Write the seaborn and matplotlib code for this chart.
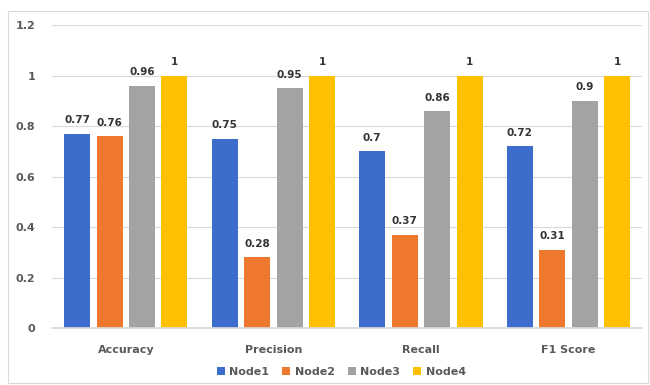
import matplotlib
matplotlib.use("Agg")
import matplotlib.pyplot as plt
import seaborn as sns
import pandas as pd
from matplotlib.patches import Rectangle

categories = ["Accuracy", "Precision", "Recall", "F1 Score"]
nodes = ["Node1", "Node2", "Node3", "Node4"]
node1 = [0.77, 0.75, 0.70, 0.72]
node2 = [0.76, 0.28, 0.37, 0.31]
node3 = [0.96, 0.95, 0.86, 0.90]
node4 = [1, 1, 1, 1]
yticks = [0, 0.2, 0.4, 0.6, 0.8, 1, 1.2]
ytick_labels = ["0", "0.2", "0.4", "0.6", "0.8", "1", "1.2"]

colors = ["#3D6DCC", "#EF782F", "#A3A3A3", "#FFC000"]

rows = []
for name, vals in zip(nodes, [node1, node2, node3, node4]):
    for c, v in zip(categories, vals):
        rows.append({"Metric": c, "Node": name, "Value": v})
df = pd.DataFrame(rows)

sns.set_theme(style="white")
plt.rcParams['font.family'] = ['DejaVu Sans']

fig = plt.figure(figsize=(6.5, 3.85), dpi=100)
ax = fig.add_axes([0.08, 0.148, 0.908, 0.787])

sns.barplot(data=df, x="Metric", y="Value", hue="Node", palette=colors,
            width=0.88, gap=0.2, ax=ax, legend=True, saturation=1,
            linewidth=0)

for cont in ax.containers:
    labels = [f"{v:g}" for v in cont.datavalues]
    ax.bar_label(cont, labels=labels, padding=6, fontsize=7.5,
                 fontweight="bold", color="#333333")

ax.set_ylim(0, 1.2)
ax.set_yticks(yticks)
ax.set_yticklabels(ytick_labels)
ax.yaxis.grid(True, color="#D9D9D9", linewidth=0.8)
ax.set_axisbelow(True)
for s in ["top", "right", "left"]:
    ax.spines[s].set_visible(False)
ax.spines["bottom"].set_color("#D9D9D9")
ax.set_xlabel("")
ax.set_ylabel("")
ax.tick_params(axis="y", length=0, labelsize=8, labelcolor="#595959", pad=12)
ax.tick_params(axis="x", length=0, labelsize=8, labelcolor="#595959", pad=12)
for t in ax.get_xticklabels() + ax.get_yticklabels():
    t.set_fontweight("bold")

leg = ax.legend(loc="upper center", bbox_to_anchor=(0.49, -0.095), ncol=4,
                frameon=False, fontsize=8, handlelength=0.7, handleheight=0.7,
                columnspacing=1.2, handletextpad=0.4)
for t in leg.get_texts():
    t.set_color("#595959")
    t.set_fontweight("bold")

fig.patches.append(Rectangle((8 / 650, 2 / 385), 640 / 650, 372 / 385,
                             transform=fig.transFigure, fill=False,
                             edgecolor="#D9D9D9", linewidth=0.8))

fig.savefig("out.png", dpi=100)
